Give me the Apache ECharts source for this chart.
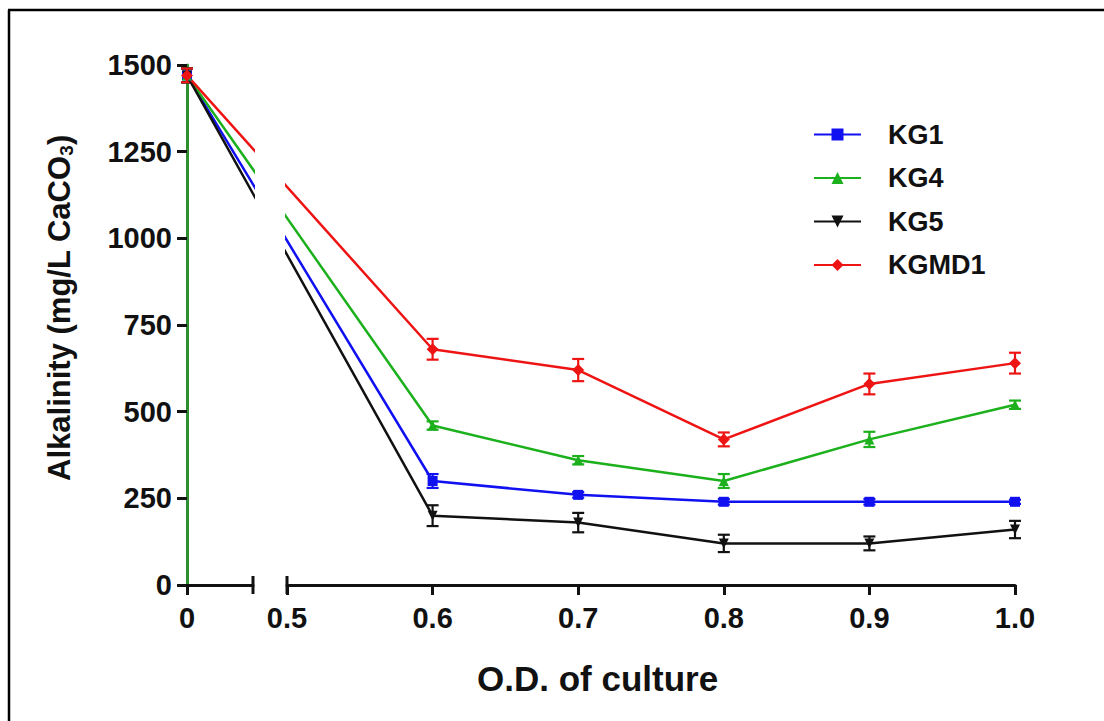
<!DOCTYPE html>
<html lang="en">
<head>
    <meta charset="UTF-8">
    <title>Alkalinity vs O.D.</title>
    <script src="https://cdn.jsdelivr.net/npm/echarts@6/dist/echarts.min.js"></script>
    <style>
        html, body { margin: 0; padding: 0; background: #fff; }
        #main { width: 1104px; height: 721px; }
    </style>
</head>
<body>
    <div id="main"></div>
    <script>
        // data
        var odValues = [0, 0.6, 0.7, 0.8, 0.9, 1.0];
        var kg1 = [1470, 300, 260, 240, 240, 240];
        var kg1Err = [20, 20, 8, 8, 8, 6];
        var kg4 = [1470, 460, 360, 300, 420, 520];
        var kg4Err = [20, 12, 12, 20, 22, 12];
        var kg5 = [1470, 200, 180, 120, 120, 160];
        var kg5Err = [20, 30, 28, 25, 20, 25];
        var kgmd1 = [1470, 680, 620, 420, 580, 640];
        var kgmd1Err = [20, 30, 32, 20, 30, 30];
        var yTicks = [0, 250, 500, 750, 1000, 1250, 1500];

        // broken x axis: 0 sits a bit left of 0.5, the rest is linear
        var breakAt = 0.5;
        var leftSpan = 0.0687;     // axis units between the 0 point and 0.5
        var leftAxisMax = 0.0453;  // length of the short left piece
        function mapLeft(x) { return x === 0 ? 0 : x - breakAt + leftSpan; }
        function mapRight(x) { return x === 0 ? breakAt - leftSpan : x; }

        var font = 'Liberation Sans, Arial, sans-serif';
        var list = [
            { name: 'KG1', vals: kg1, err: kg1Err, color: '#1010f0', symbol: 'rect', size: 10, rot: 0 },
            { name: 'KG4', vals: kg4, err: kg4Err, color: '#1cb01c', symbol: 'triangle', size: 10, rot: 0 },
            { name: 'KG5', vals: kg5, err: kg5Err, color: '#111111', symbol: 'triangle', size: 10, rot: 180 },
            { name: 'KGMD1', vals: kgmd1, err: kgmd1Err, color: '#ee1414', symbol: 'diamond', size: 12, rot: 0 }
        ];

        function errBars(color) {
            return function (params, api) {
                var x = api.value(0), y = api.value(1), e = api.value(2);
                var top = api.coord([x, y + e]);
                var bot = api.coord([x, y - e]);
                var st = { stroke: color, lineWidth: 2.2 };
                return {
                    type: 'group',
                    children: [
                        { type: 'line', shape: { x1: top[0], y1: top[1], x2: bot[0], y2: bot[1] }, style: st },
                        { type: 'line', shape: { x1: top[0] - 6, y1: top[1], x2: top[0] + 6, y2: top[1] }, style: st },
                        { type: 'line', shape: { x1: bot[0] - 6, y1: bot[1], x2: bot[0] + 6, y2: bot[1] }, style: st }
                    ]
                };
            };
        }

        var series = [];
        list.forEach(function (s) {
            [0, 1].forEach(function (g) {
                var map = g === 0 ? mapLeft : mapRight;
                series.push({
                    name: s.name,
                    type: 'line',
                    xAxisIndex: g,
                    yAxisIndex: g,
                    clip: true,
                    data: odValues.map(function (x, i) { return [map(x), s.vals[i]]; }),
                    symbol: s.symbol,
                    symbolSize: s.size,
                    symbolRotate: s.rot,
                    showAllSymbol: true,
                    lineStyle: { color: s.color, width: 2.5 },
                    itemStyle: { color: s.color },
                    z: 3
                });
                var errData = [];
                odValues.forEach(function (x, i) {
                    if ((g === 0) === (x === 0)) errData.push([map(x), s.vals[i], s.err[i]]);
                });
                series.push({
                    name: s.name + ' err',
                    type: 'custom',
                    xAxisIndex: g,
                    yAxisIndex: g,
                    renderItem: errBars(s.color),
                    data: errData,
                    z: 2
                });
            });
        });

        var axisBlack = { color: '#111', width: 3 };
        var tickFont = { fontSize: 29, fontWeight: 'bold', fontFamily: font, color: '#111' };
        var option = {
            backgroundColor: '#fff',
            animation: false,
            grid: [
                { left: 187, top: 65, width: 66, height: 520 },
                { left: 287, top: 65, width: 728, height: 520 }
            ],
            xAxis: [
                {
                    type: 'value', gridIndex: 0, min: 0, max: leftAxisMax, interval: 1,
                    axisLine: { lineStyle: axisBlack, symbol: ['none', 'rect'], symbolSize: [18, 3] },
                    axisTick: { length: 10, lineStyle: axisBlack },
                    axisLabel: Object.assign({ formatter: function () { return '0'; }, margin: 18, showMaxLabel: false }, tickFont),
                    splitLine: { show: false }
                },
                {
                    type: 'value', gridIndex: 1, min: 0.5, max: 1.0, interval: 0.1,
                    axisLine: { lineStyle: axisBlack, symbol: ['rect', 'none'], symbolSize: [18, 3] },
                    axisTick: { length: 10, lineStyle: axisBlack },
                    axisLabel: Object.assign({ formatter: function (v) { return v.toFixed(1); }, margin: 18 }, tickFont),
                    splitLine: { show: false }
                }
            ],
            yAxis: [
                {
                    type: 'value', gridIndex: 0, min: yTicks[0], max: yTicks[yTicks.length - 1], interval: 250,
                    name: '{a|Alkalinity (mg/L CaCO}{s|3}{a|)}',
                    nameLocation: 'middle',
                    nameGap: 111,
                    nameTextStyle: {
                        padding: [0, 0, 0, 34],
                        rich: {
                            a: { fontSize: 31, fontWeight: 'bold', fontFamily: font, color: '#111' },
                            s: { fontSize: 19, fontWeight: 'bold', fontFamily: font, color: '#111', padding: [14, 0, 0, 0] }
                        }
                    },
                    axisLine: { show: true, lineStyle: { color: '#2d8f2d', width: 3 } },
                    axisTick: { show: true, length: 10, lineStyle: axisBlack },
                    axisLabel: Object.assign({ formatter: function (v) { return String(v); }, margin: 15 }, tickFont),
                    splitLine: { show: false }
                },
                {
                    type: 'value', gridIndex: 1, min: yTicks[0], max: yTicks[yTicks.length - 1], interval: 250,
                    show: false, splitLine: { show: false }
                }
            ],
            legend: {
                orient: 'vertical',
                left: 808,
                top: 116,
                itemWidth: 47,
                itemHeight: 15,
                itemGap: 16.5,
                data: ['KG1', 'KG4', 'KG5', 'KGMD1'],
                textStyle: { fontSize: 27, fontWeight: 'bold', fontFamily: font, color: '#111', padding: [0, 0, 0, 22] }
            },
            graphic: [
                { type: 'text', left: 603 - 126, top: 661, style: { text: 'O.D. of culture', font: 'bold 35px ' + font, fill: '#111' } },
                { type: 'line', shape: { x1: 8, y1: 10, x2: 1104, y2: 10 }, style: { stroke: '#000', lineWidth: 2.5 } },
                { type: 'line', shape: { x1: 9, y1: 10, x2: 9, y2: 721 }, style: { stroke: '#000', lineWidth: 2.5 } }
            ],
            series: series
        };

        var myChart = echarts.init(document.getElementById('main'), null, { renderer: 'svg' });
        myChart.setOption(option);
    </script>
</body>
</html>
